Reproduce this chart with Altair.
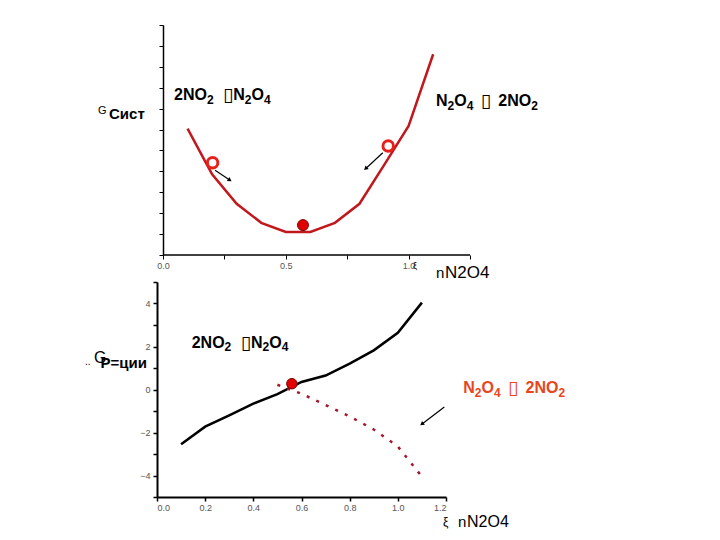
import math
import altair as alt
import pandas as pd

# ---------------- data ----------------
# top panel: G_sist vs xi
top_xi = [0.1, 0.2, 0.3, 0.4, 0.5, 0.6, 0.7, 0.8, 0.9, 1.0, 1.1]
top_g = [6.04, 3.86, 2.45, 1.54, 1.10, 1.10, 1.54, 2.45, 4.30, 6.17, 9.60]
top_eq_xi = [0.570]
top_eq_g = [1.43]
top_open_xi = [0.202, 0.917]
top_open_g = [4.41, 5.21]
top_arrow_x1 = [0.212, 0.895]
top_arrow_y1 = [4.05, 4.89]
top_arrow_x2 = [0.270, 0.827]
top_arrow_y2 = [3.60, 4.15]

# bottom panel: dG reaction vs xi
bot_xi = [0.1, 0.2, 0.3, 0.4, 0.5, 0.6, 0.7, 0.8, 0.9, 1.0, 1.1]
bot_fwd = [-2.55, -1.73, -1.20, -0.66, -0.22, 0.35, 0.65, 1.20, 1.82, 2.64, 4.04]
bot_rev_xi = [0.5, 0.6, 0.7, 0.8, 0.9, 1.0, 1.1]
bot_rev = [0.22, -0.20, -0.72, -1.25, -1.86, -2.65, -4.05]
bot_eq_xi = [0.56]
bot_eq_g = [0.27]
bot_arrow_x1 = [1.193]
bot_arrow_y1 = [-0.81]
bot_arrow_x2 = [1.102]
bot_arrow_y2 = [-1.59]

top_xticks = [0, 0.25, 0.5, 0.75, 1.0, 1.25]
top_yticks = list(range(0, 12))
bot_xticks = [0, 0.2, 0.4, 0.6, 0.8, 1.0, 1.2]
bot_yticks = list(range(-5, 6))

BOX = "\u25af"
FWD_SPEC = [("2NO", "m"), ("2", "s"), (BOX, "box", 10.4, 9.3), ("N", "m"), ("2", "s"), ("O", "m"), ("4", "s")]
REV_SPEC = [("N", "m"), ("2", "s"), ("O", "m"), ("4", "s"), (BOX, "box", 8.3, 16.6), ("2NO", "m"), ("2", "s")]

# ---------------- geometry ----------------
TOP_SHIFT = 6  # top plot's y axis sits 6px right of the bottom one
TOP = dict(x0=-TOP_SHIFT / 245.6, x1=1.25, y0=0.0, y1=11.0, w=307 + TOP_SHIFT, h=230)
BOT = dict(x0=0.0, x1=1.2, y0=-5.0, y1=5.0, w=289, h=215)

FONT = "Liberation Sans"
BOLD_W = {"2": 556, "4": 556, "N": 722, "O": 778}


def ppu(g):
    return g["w"] / (g["x1"] - g["x0"]), g["h"] / (g["y1"] - g["y0"])


def to_data(g, px, py):
    # px measured from the x = 0 position, py from the top of the plot
    xu, yu = ppu(g)
    return px / xu, g["y1"] - py / yu


def formula_rows(g, spec, start_px, base_py, main=16, sub=12, drop=3.7):
    rows, cur = [], start_px
    for item in spec:
        text, kind = item[0], item[1]
        if kind == "box":
            gap, adv = item[2], item[3]
            x, y = to_data(g, cur + gap - 1, base_py + 1)
            rows.append(dict(text=text, x=x, y=y, fs=19, kind="box"))
            cur += gap + adv
        else:
            fs = main if kind == "m" else sub
            py = base_py + (drop if kind == "s" else 0)
            x, y = to_data(g, cur, py)
            rows.append(dict(text=text, x=x, y=y, fs=fs, kind="t"))
            cur += sum(BOLD_W[c] for c in text) * fs / 1000.0
    return pd.DataFrame(rows)


def plain_rows(g, items):
    rows = []
    for text, px, py, fs in items:
        x, y = to_data(g, px, py)
        rows.append(dict(text=text, x=x, y=y, fs=fs))
    return pd.DataFrame(rows)


# ---------------- scales & axes ----------------
txs = alt.Scale(domain=[TOP["x0"], TOP["x1"]], nice=False, zero=False)
tys = alt.Scale(domain=[TOP["y0"], TOP["y1"]], nice=False, zero=False)
bxs = alt.Scale(domain=[BOT["x0"], BOT["x1"]], nice=False, zero=False)
bys = alt.Scale(domain=[BOT["y0"], BOT["y1"]], nice=False, zero=False)

AXES = {
    "top": (
        dict(
            values=top_xticks, title=None, grid=False, domain=False,
            labelExpr="(datum.value == 0 || datum.value == 0.5 || datum.value == 1) ? format(datum.value, '.1f') : ''",
            tickColor="black", tickSize=4, labelOverlap=False,
            labelFontSize=9, labelColor="#555", labelFont=FONT, labelPadding=2,
        ),
        dict(
            values=top_yticks, title=None, grid=False, labels=False, offset=-TOP_SHIFT,
            domainColor="black", domainWidth=1.5, tickColor="black", tickSize=4,
        ),
    ),
    "bot": (
        dict(
            values=bot_xticks, format=".1f", title=None, grid=False,
            domainColor="black", domainWidth=2, tickColor="black", tickSize=4, tickWidth=1.5,
            labelFontSize=9, labelColor="#555", labelFont=FONT, labelPadding=2, labelOverlap=False,
        ),
        dict(
            values=bot_yticks, title=None, grid=False, format="d",
            labelExpr="(abs(datum.value) % 2 < 0.5) ? datum.label : ''",
            domainColor="black", domainWidth=2, tickColor="black", tickSize=4, tickWidth=1.5,
            labelFontSize=9, labelColor="#555", labelFont=FONT, labelPadding=3,
            labelOverlap=False, labelBound=False, labelFlush=False,
        ),
    ),
}
SCALES = {"top": (txs, tys), "bot": (bxs, bys)}


def X(field, p):
    return alt.X(field, scale=SCALES[p][0], axis=alt.Axis(**AXES[p][0]))


def Y(field, p):
    return alt.Y(field, scale=SCALES[p][1], axis=alt.Axis(**AXES[p][1]))


def text_layer(df, p, color, weight="normal", font=FONT):
    return alt.Chart(df).mark_text(
        align="left", baseline="alphabetic", color=color, fontWeight=weight, font=font
    ).encode(
        x=X("x:Q", p),
        y=Y("y:Q", p),
        text="text:N",
        size=alt.Size("fs:Q", scale=None),
    )


def formula_layers(df, p, color):
    t = df[df.kind == "t"]
    b = df[df.kind == "box"]
    return [
        text_layer(t, p, color, "bold"),
        text_layer(b, p, color, "normal", "DejaVu Sans"),
    ]


def arrow_layers(g, p, x1, y1, x2, y2):
    xu, yu = ppu(g)
    ang = []
    for a, b, c, d in zip(x1, y1, x2, y2):
        dx = (c - a) * xu
        dy = -(d - b) * yu
        ang.append(math.degrees(math.atan2(dx, -dy)) % 360)
    df = pd.DataFrame(dict(x1=x1, y1=y1, x2=x2, y2=y2, ang=ang))
    rule = alt.Chart(df).mark_rule(color="black", strokeWidth=1.2).encode(
        x=X("x1:Q", p), y=Y("y1:Q", p), x2="x2:Q", y2="y2:Q"
    )
    head = alt.Chart(df).mark_point(shape="triangle", filled=True, color="black", opacity=1, size=22).encode(
        x=X("x2:Q", p), y=Y("y2:Q", p), angle=alt.Angle("ang:Q", scale=None)
    )
    return [rule, head]


# ---------------- top panel ----------------
top_line = alt.Chart(pd.DataFrame(dict(xi=top_xi, g=top_g))).mark_line(
    color="#c0181c", strokeWidth=2.5
).encode(x=X("xi:Q", "top"), y=Y("g:Q", "top"))
top_baseline = alt.Chart(
    pd.DataFrame(dict(a=[top_xticks[0]], b=[top_xticks[-1]], y=[TOP["y0"]]))
).mark_rule(color="black", strokeWidth=1.5).encode(
    x=X("a:Q", "top"), x2="b:Q", y=Y("y:Q", "top")
)
top_open = alt.Chart(pd.DataFrame(dict(xi=top_open_xi, g=top_open_g))).mark_point(
    shape="circle", filled=False, color="#e8201c", strokeWidth=3, size=110, opacity=1
).encode(x=X("xi:Q", "top"), y=Y("g:Q", "top"))
top_eq = alt.Chart(pd.DataFrame(dict(xi=top_eq_xi, g=top_eq_g))).mark_point(
    shape="circle", filled=True, fill="#e00000", stroke="#7a0000", strokeWidth=1, size=120, opacity=1
).encode(x=X("xi:Q", "top"), y=Y("g:Q", "top"))

top_f1 = formula_rows(TOP, FWD_SPEC, 11, 75)
top_f2 = formula_rows(TOP, REV_SPEC, 273, 81)
top_misc_small = plain_rows(TOP, [("G", -65, 89, 11), ("\u03be", 250, 244, 9)])
top_misc_bold = plain_rows(TOP, [("\u0421\u0438\u0441\u0442", -54, 94, 15)])
top_title_n = plain_rows(TOP, [("n", 273, 252.5, 15)])
top_title = plain_rows(TOP, [("N2O4", 282, 252.5, 17)])

top_layers = [top_line, top_baseline, top_open, top_eq]
top_layers += arrow_layers(TOP, "top", top_arrow_x1, top_arrow_y1, top_arrow_x2, top_arrow_y2)
top_layers += formula_layers(top_f1, "top", "black")
top_layers += formula_layers(top_f2, "top", "black")
top_layers += [
    text_layer(top_misc_small, "top", "black"),
    text_layer(top_misc_bold, "top", "black", "bold"),
    text_layer(top_title_n, "top", "black"),
    text_layer(top_title, "top", "black"),
]
top = alt.layer(*top_layers).properties(width=TOP["w"], height=TOP["h"])

# ---------------- bottom panel ----------------
bot_line = alt.Chart(pd.DataFrame(dict(xi=bot_xi, g=bot_fwd))).mark_line(
    color="black", strokeWidth=2.5
).encode(x=X("xi:Q", "bot"), y=Y("g:Q", "bot"))
bot_rev_line = alt.Chart(pd.DataFrame(dict(xi=bot_rev_xi, g=bot_rev))).mark_line(
    color="#a3162b", strokeWidth=2.5, strokeDash=[3, 7.5]
).encode(x=X("xi:Q", "bot"), y=Y("g:Q", "bot"))
bot_eq = alt.Chart(pd.DataFrame(dict(xi=bot_eq_xi, g=bot_eq_g))).mark_point(
    shape="circle", filled=True, fill="#e00000", stroke="#7a0000", strokeWidth=1, size=110, opacity=1
).encode(x=X("xi:Q", "bot"), y=Y("g:Q", "bot"))

bot_f1 = formula_rows(BOT, FWD_SPEC, 34.7, 65.7)
bot_f2 = formula_rows(BOT, REV_SPEC, 306.3, 111.3)
bot_dots = plain_rows(BOT, [("..", -72, 83, 10)])
bot_G = plain_rows(BOT, [("G", -63, 81, 16)])
bot_lbl = plain_rows(BOT, [("\u0420=\u0446\u0438\u0438", -56.5, 85.5, 15)])
bot_xi_lbl = plain_rows(BOT, [("\u03be", 286, 244, 12)])
bot_title_n = plain_rows(BOT, [("n", 301, 245, 15)])
bot_title = plain_rows(BOT, [("N2O4", 310, 245, 16)])

bot_layers = [bot_line, bot_rev_line, bot_eq]
bot_layers += arrow_layers(BOT, "bot", bot_arrow_x1, bot_arrow_y1, bot_arrow_x2, bot_arrow_y2)
bot_layers += formula_layers(bot_f1, "bot", "black")
bot_layers += formula_layers(bot_f2, "bot", "#e8461e")
bot_layers += [
    text_layer(bot_dots, "bot", "black"),
    text_layer(bot_G, "bot", "black"),
    text_layer(bot_lbl, "bot", "black", "bold"),
    text_layer(bot_xi_lbl, "bot", "black"),
    text_layer(bot_title_n, "bot", "black"),
    text_layer(bot_title, "bot", "black"),
]
bottom = alt.layer(*bot_layers).properties(width=BOT["w"], height=BOT["h"])

# ---------------- layout ----------------
chart = alt.vconcat(top, bottom, spacing=27, bounds="flush").properties(
    padding={"left": 77, "top": 16, "right": 5, "bottom": 5},
    background="white",
).configure_view(stroke=None)

chart.save("out.html", embed_options={"renderer": "svg", "actions": False})
